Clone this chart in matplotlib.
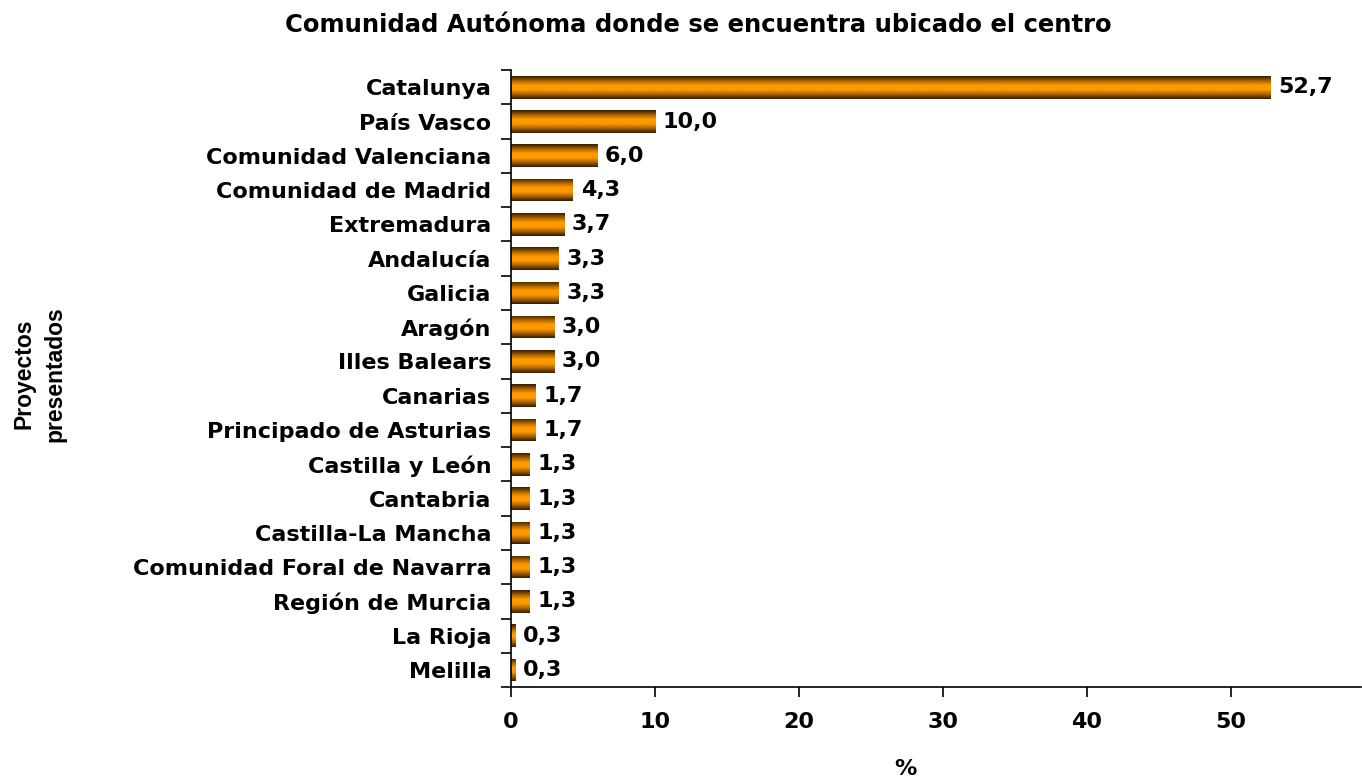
import numpy as np
import matplotlib
matplotlib.use("Agg")
import matplotlib.pyplot as plt
from matplotlib.colors import LinearSegmentedColormap

# data
regiones = ["Catalunya", "País Vasco", "Comunidad Valenciana", "Comunidad de Madrid",
            "Extremadura", "Andalucía", "Galicia", "Aragón", "Illes Balears", "Canarias",
            "Principado de Asturias", "Castilla y León", "Cantabria", "Castilla-La Mancha",
            "Comunidad Foral de Navarra", "Región de Murcia", "La Rioja", "Melilla"]
porcentajes = [52.7, 10.0, 6.0, 4.3, 3.7, 3.3, 3.3, 3.0, 3.0, 1.7, 1.7, 1.3, 1.3, 1.3, 1.3, 1.3, 0.3, 0.3]
etiquetas = ["52,7", "10,0", "6,0", "4,3", "3,7", "3,3", "3,3", "3,0", "3,0", "1,7", "1,7",
             "1,3", "1,3", "1,3", "1,3", "1,3", "0,3", "0,3"]
xticks = [0, 10, 20, 30, 40, 50]

plt.rcParams['font.family'] = ['DejaVu Sans']

fig = plt.figure(figsize=(13.62, 7.79), dpi=100)
ax = fig.add_axes([0.375, 0.118, 0.624, 0.792])

# dark - orange - dark gradient for the bars
cmap = LinearSegmentedColormap.from_list("barra", ["#331d00", "#a86200", "#ff9900", "#ff9900", "#a86200", "#331d00"])
grad = np.linspace(0, 1, 64).reshape(-1, 1)

y = np.arange(len(regiones))
alto = 0.66
bars = ax.barh(y, porcentajes, height=alto, color="none", edgecolor="none")
for b, v, yy in zip(bars, porcentajes, y):
    im = ax.imshow(grad, cmap=cmap, aspect="auto", interpolation="bilinear",
                   extent=(0, v, yy + alto / 2, yy - alto / 2), zorder=2)
    im.set_clip_path(b)

for v, yy, t in zip(porcentajes, y, etiquetas):
    ax.text(v + 0.55, yy, t, va="center", ha="left", fontsize=16, fontweight="bold")

ax.set_ylim(len(regiones) - 0.5, -0.5)
ax.set_xlim(0, 59)
ax.set_yticks(y)
ax.set_yticklabels(regiones, fontsize=16, fontweight="bold")
ax.set_yticks(np.arange(-0.5, len(regiones) + 0.5, 1), minor=True)
ax.tick_params(axis="y", which="major", length=0, pad=14)
ax.tick_params(axis="y", which="minor", length=7, width=1.2, direction="out")
ax.set_xticks(xticks)
ax.set_xticklabels([str(t) for t in xticks], fontsize=16, fontweight="bold")
ax.tick_params(axis="x", length=7, width=1.2, direction="out", pad=11)

for s in ["top", "right"]:
    ax.spines[s].set_visible(False)
for s in ["left", "bottom"]:
    ax.spines[s].set_linewidth(1.2)

fig.text(0.513, 0.968, "Comunidad Autónoma donde se encuentra ubicado el centro",
         ha="center", va="center", fontsize=17.5, fontweight="bold")
fig.text(0.665, 0.013, "%", ha="center", va="center", fontsize=16, fontweight="bold")
fig.text(0.029, 0.52, "Proyectos\npresentados", ha="center", va="center", rotation=90,
         fontsize=16.5, fontweight="bold", linespacing=1.45, family=["Liberation Sans", "DejaVu Sans"])

fig.savefig("out.png", dpi=100)
